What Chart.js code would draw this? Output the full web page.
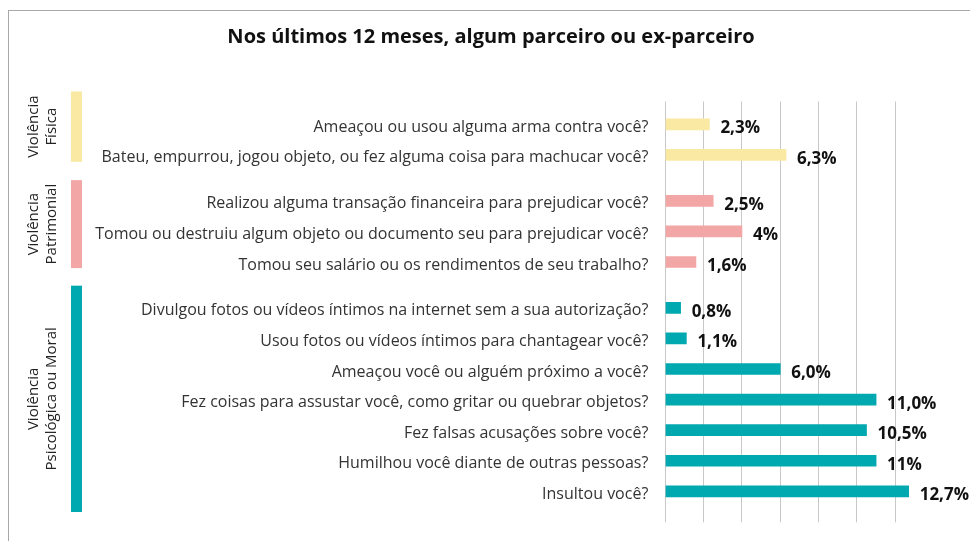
<!DOCTYPE html>
<html>
<head>
<meta charset="utf-8">
<script src="https://cdn.jsdelivr.net/npm/chart.js@4/dist/chart.umd.min.js"></script>
<style>
  html, body { margin: 0; padding: 0; background: #fff; overflow: hidden; }
  #wrap { width: 970px; height: 541px; position: relative; }
</style>
</head>
<body>
<div id="wrap"><canvas id="chart" width="970" height="541"></canvas></div>
<script>
  const chartTitle = 'Nos últimos 12 meses, algum parceiro ou ex-parceiro';

  const fisicaLabels = [
    'Ameaçou ou usou alguma arma contra você?',
    'Bateu, empurrou, jogou objeto, ou fez alguma coisa para machucar você?'
  ];
  const fisicaValues = [2.3, 6.3];
  const fisicaText = ['2,3%', '6,3%'];

  const patrimonialLabels = [
    'Realizou alguma transação financeira para prejudicar você?',
    'Tomou ou destruiu algum objeto ou documento seu para prejudicar você?',
    'Tomou seu salário ou os rendimentos de seu trabalho?'
  ];
  const patrimonialValues = [2.5, 4, 1.6];
  const patrimonialText = ['2,5%', '4%', '1,6%'];

  const moralLabels = [
    'Divulgou fotos ou vídeos íntimos na internet sem a sua autorização?',
    'Usou fotos ou vídeos íntimos para chantagear você?',
    'Ameaçou você ou alguém próximo a você?',
    'Fez coisas para assustar você, como gritar ou quebrar objetos?',
    'Fez falsas acusações sobre você?',
    'Humilhou você diante de outras pessoas?',
    'Insultou você?'
  ];
  const moralValues = [0.8, 1.1, 6.0, 11.0, 10.5, 11.0, 12.7];
  const moralText = ['0,8%', '1,1%', '6,0%', '11,0%', '10,5%', '11%', '12,7%'];

  const groupNames = [['Violência', 'Física'], ['Violência', 'Patrimonial'], ['Violência', 'Psicológica ou Moral']];
  const groupColors = ['#F9E9A2', '#F3A6A6', '#00A9AF'];
  // how far each side band reaches past its first / last row, in row units
  const bandPad = [[2.15, 0.45], [1.35, 0.4], [1.45, 1.35]];

  const groups = [
    { labels: fisicaLabels, values: fisicaValues, text: fisicaText },
    { labels: patrimonialLabels, values: patrimonialValues, text: patrimonialText },
    { labels: moralLabels, values: moralValues, text: moralText }
  ];

  // blank rows keep the spacing between questions and between groups
  const labels = [''], values = [null], texts = [null], colors = [null];
  groups.forEach((g, gi) => {
    if (gi > 0) { labels.push(''); values.push(null); texts.push(null); colors.push(null); }
    g.first = labels.length;
    g.labels.forEach((l, i) => {
      labels.push(l); values.push(g.values[i]); texts.push(g.text[i]); colors.push(groupColors[gi]);
      labels.push(''); values.push(null); texts.push(null); colors.push(null);
    });
    g.last = labels.length - 2;
  });

  const decor = {
    id: 'decor',
    beforeDraw(chart) {
      const c = chart.ctx;
      c.save();
      c.fillStyle = '#fff';
      c.fillRect(0, 0, chart.width, chart.height);
      c.strokeStyle = '#a8a8a8';
      c.lineWidth = 1;
      c.strokeRect(8.5, 10.5, 1000, 600);
      c.restore();
    },
    afterDatasetsDraw(chart) {
      const c = chart.ctx;
      const y = chart.scales.y;
      const meta = chart.getDatasetMeta(0);
      c.save();
      // value labels
      c.font = 'bold 17px "Open Sans"';
      c.fillStyle = '#111';
      c.textAlign = 'left';
      c.textBaseline = 'alphabetic';
      meta.data.forEach((bar, i) => {
        if (texts[i] == null) return;
        c.fillText(texts[i], bar.x + 11, bar.y + 9);
      });
      // side bands and group names
      groups.forEach((g, gi) => {
        const top = y.getPixelForValue(g.first - bandPad[gi][0]);
        const bottom = y.getPixelForValue(g.last + bandPad[gi][1]);
        c.fillStyle = groupColors[gi];
        c.fillRect(71, top, 11, bottom - top);
        const cy = (top + bottom) / 2;
        c.save();
        c.translate(0, cy);
        c.rotate(-Math.PI / 2);
        c.font = '15px "Open Sans"';
        c.fillStyle = '#222';
        c.textAlign = 'center';
        c.textBaseline = 'alphabetic';
        c.fillText(groupNames[gi][0], 0, 38);
        c.fillText(groupNames[gi][1], 0, 56);
        c.restore();
      });
      // title
      c.font = 'bold 20px "Open Sans"';
      c.fillStyle = '#111';
      c.textAlign = 'center';
      c.fillText(chartTitle, 491, 43);
      c.restore();
    }
  };

  new Chart(document.getElementById('chart'), {
    type: 'bar',
    data: {
      labels: labels,
      datasets: [{
        data: values,
        backgroundColor: colors,
        barThickness: 11,
        borderWidth: 0
      }]
    },
    options: {
      indexAxis: 'y',
      responsive: false,
      animation: false,
      events: [],
      layout: { padding: { top: 101.4, bottom: 18.7, left: 0, right: 0 } },
      plugins: { legend: { display: false }, tooltip: { enabled: false }, title: { display: false } },
      scales: {
        x: {
          min: 0,
          max: 15.9,
          ticks: { display: false, stepSize: 2 },
          border: { display: false },
          grid: {
            color: ctx => (ctx.tick && ctx.tick.value % 2 === 0) ? '#c8c8c8' : 'rgba(0,0,0,0)',
            lineWidth: 1,
            drawTicks: true,
            tickLength: 8
          },
          afterFit(scale) { scale.height = 8; }
        },
        y: {
          grid: { display: false, drawTicks: false },
          border: { display: false },
          ticks: {
            autoSkip: false,
            padding: 17,
            labelOffset: 3,
            color: '#333',
            font: { family: 'Open Sans', size: 16 }
          },
          afterFit(scale) { scale.width = 665.3; }
        }
      }
    },
    plugins: [decor]
  });
</script>
</body>
</html>
